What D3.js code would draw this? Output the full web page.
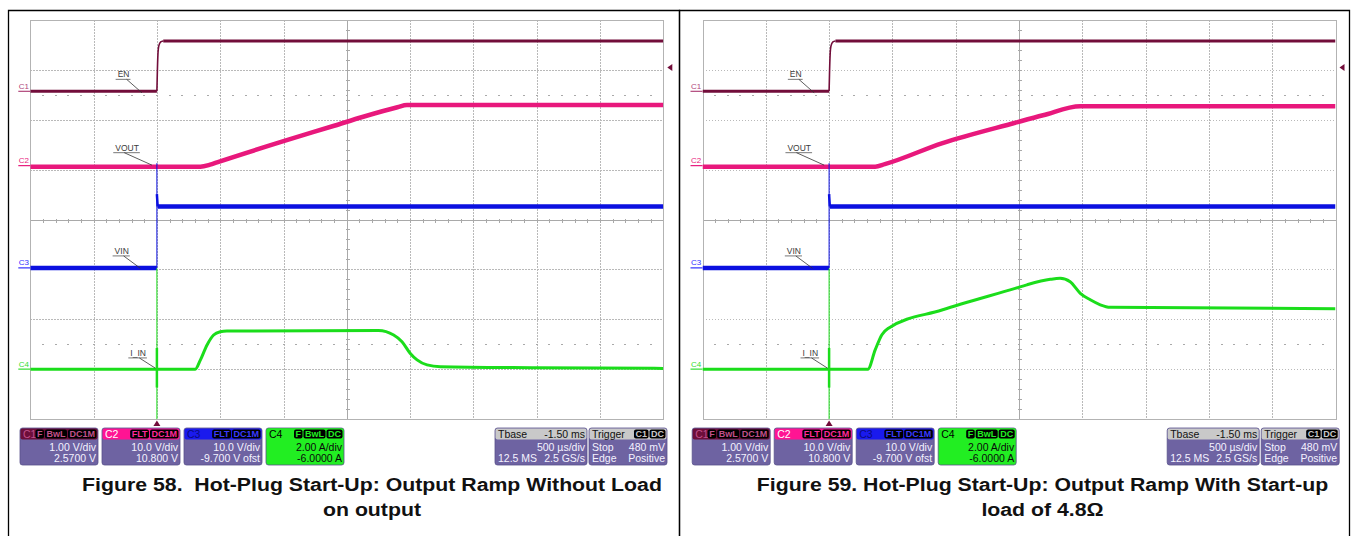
<!DOCTYPE html>
<meta charset="utf-8">
<style>
body {
	margin: 0;
	background-color: #ffffff;
	font-family: "Liberation Sans", Arial, sans-serif;
}
svg { display: block; }
.grid line { stroke: #b9b9b9; stroke-dasharray: 1.5,1.5; shape-rendering: crispEdges; }
.center line { stroke: #a9a9a9; shape-rendering: crispEdges; }
.frame { fill: none; stroke: #b3b3b3; shape-rendering: crispEdges; }
.trace { fill: none; stroke-linejoin: round; stroke-linecap: butt; }
.note { font-size: 8.5px; fill: #3a3a3a; }
.caption { font-size: 19px; font-weight: bold; fill: #111; text-anchor: middle; white-space: pre; }
.box text { font-size: 10.5px; }
</style>
<body>
<script src="https://d3js.org/d3.v7.min.js"></script>
<script>
// time axis in ms (trigger at 0), 500 us/div, 10 divisions
var timeRange = [-1.0, 4.0];
var divRange = [-4, 4];

// channel setup
var chanIds = ['C1', 'C2', 'C3', 'C4'];
var chanNames = ['EN', 'VOUT', 'VIN', 'I_IN'];
var perDiv = [1.0, 10.0, 10.0, 2.0];
var chanOffset = [2.57, 10.8, -9.7, -6.0];
var boxScale = ['1.00 V/div', '10.0 V/div', '10.0 V/div', '2.00 A/div'];
var boxOffset = ['2.5700 V', '10.800 V', '-9.700 V ofst', '-6.0000 A'];
var boxBadges = [['F', 'BwL', 'DC1M'], ['FLT', 'DC1M'], ['FLT', 'DC1M'], ['F', 'BwL', 'DC']];
var tbaseLines = [['Tbase', '-1.50 ms'], ['', '500 \u00b5s/div'], ['12.5 MS', '2.5 GS/s']];
var trigLines = [['Trigger', ''], ['Stop', '480 mV'], ['Edge', 'Positive']];
var trigBadges = ['C1', 'DC'];
var trigLevel = 0.48; // V on C1

// EN (V) and VIN (V) are the same in both captures: [ms, value]
var en = [[-1, 0], [0, 0], null, [0.05, 1.01], [4, 1.01]];
var enEdge = [[0, 0], [0.003, 0.33], [0.008, 0.73], [0.015, 0.91], [0.03, 0.99], [0.05, 1.01]];
var vin = [[-1, 0], [0, 0], null, [0.006, 12.3], [4, 12.3]];
var vinEdge = [[0, 21.0], [0, 0]];
var vinSpike = [[0, 14.8], [0.006, 12.3]];

// Figure 58: no load
var vout58 = [[-1, -0.2], [0.343, -0.2], [0.42, 0.2], [0.475, 0.66], [1.0, 4.9], [1.4, 8.0],
	[1.63, 9.8], [1.9, 11.7], [1.975, 12.15], [4, 12.15]];
var iin58 = [[-1, 0], [0.303, 0], [0.343, 0.36], [0.396, 0.97], [0.448, 1.37], [0.5, 1.5],
	[0.553, 1.53], [1.75, 1.55], [1.87, 1.37], [1.936, 1.1], [2.0, 0.64], [2.055, 0.37],
	[2.134, 0.17], [2.24, 0.1], [3.0, 0.06], [4, 0.03]];

// Figure 59: 4.8 ohm start-up load
var vout59 = [[-1, -0.2], [0.364, -0.2], [0.44, 0.3], [0.89, 4.47], [1.47, 8.6], [1.69, 10.1],
	[1.984, 11.9], [4, 11.9]];
var iin59 = [[-1, 0], [0.306, 0], [0.364, 0.77], [0.417, 1.38], [0.469, 1.64], [0.891, 2.37],
	[1.47, 3.24], [1.562, 3.38], [1.747, 3.6], [1.825, 3.64], [1.904, 3.5], [1.984, 3.04],
	[2.063, 2.78], [2.142, 2.58], [2.22, 2.48], [4, 2.42]];

var iinEdge = [[0, 4.04], [0, -2]];
var iinSpike = [[0, 0.85], [0, -0.74]];

var captions = [
	['Figure 58.  Hot-Plug Start-Up: Output Ramp Without Load', 'on output'],
	['Figure 59. Hot-Plug Start-Up: Output Ramp With Start-up', 'load of 4.8\u03a9']
];

// styles
var traceColor = ['#720d3a', '#e8187c', '#0b10e0', '#1bdd1b'];
var traceWidth = [3, 4.5, 4.5, 3];
var markColor = ['#b0457a', '#e8187c', '#3030ff', '#33dd33'];
var headFill = ['#6d0e3a', '#ff1493', '#1a1aee', '#22ee22'];
var headText = ['#c0508a', '#ffffff', '#0a0a80', '#000000'];
var badgeText = ['#c0508a', '#ff2a9a', '#3a3aff', '#22ee22'];
var bodyFill = '#6e63a2';

var width = 1351, height = 536;
var gridTop = 20, gridW = 633, gridH = 399;
var boxTop = 428, boxH = 37, headH = 11;

var svg = d3.select('body').append('svg')
	.attr('width', width)
	.attr('height', height);

var panels = [
	{frame: [8.5, 679.5], gridLeft: 30.3, vout: vout58, iin: iin58, caption: captions[0]},
	{frame: [679.5, 1349.5], gridLeft: 702.5, vout: vout59, iin: iin59, caption: captions[1]}
];

// text labels placed in scope coordinates (ms, divisions)
var notes = [
	{ch: 0, tx: -0.31, ty: 2.85, ex: -0.118, ey: 2.54},
	{ch: 1, tx: -0.329, ty: 1.38, ex: -0.039, ey: 1.09},
	{ch: 2, tx: -0.334, ty: -0.69, ex: -0.131, ey: -0.978},
	{ch: 3, tx: -0.21, ty: -2.735, ex: -0.013, ey: -2.98}
];

svg.append('defs');

panels.forEach(function(p, pi) {
	var g = svg.append('g');
	var x = d3.scaleLinear().domain(timeRange).range([p.gridLeft, p.gridLeft + gridW]);
	var y = d3.scaleLinear().domain(divRange).range([gridTop + gridH, gridTop]);

	// panel border (open at the bottom)
	g.append('path')
		.attr('d', 'M' + p.frame[0] + ',' + (height + 2) + 'V10.5H' + p.frame[1] + 'V' + (height + 2))
		.attr('fill', 'none').attr('stroke', '#000').attr('stroke-width', 1.3);

	// graticule
	var vLines = d3.range(timeRange[0] + 0.5, timeRange[1] - 0.01, 0.5).filter(function(t) { return Math.abs(t - 1.5) > 1e-6; });
	var hLines = d3.range(-3, 3.5, 1).filter(function(d) { return d !== 0; });
	var grid = g.append('g').attr('class', 'grid');
	grid.selectAll('.v').data(vLines).enter().append('line')
		.attr('x1', function(d) { return Math.round(x(d)) + 0.5; })
		.attr('x2', function(d) { return Math.round(x(d)) + 0.5; })
		.attr('y1', y(4)).attr('y2', y(-4));
	grid.selectAll('.h').data(hLines).enter().append('line')
		.attr('y1', function(d) { return Math.round(y(d)) + 0.5; })
		.attr('y2', function(d) { return Math.round(y(d)) + 0.5; })
		.attr('x1', x(timeRange[0])).attr('x2', x(timeRange[1]));

	var cx = Math.round(x(1.5)) + 0.5, cy = Math.round(y(0)) + 0.5;
	var center = g.append('g').attr('class', 'center');
	center.append('line').attr('x1', cx).attr('x2', cx).attr('y1', y(4)).attr('y2', y(-4));
	center.append('line').attr('y1', cy).attr('y2', cy).attr('x1', x(timeRange[0])).attr('x2', x(timeRange[1]));
	center.selectAll('.tx').data(d3.range(timeRange[0] + 0.1, timeRange[1] - 0.05, 0.1)).enter().append('line')
		.attr('x1', function(d) { return Math.round(x(d)) + 0.5; })
		.attr('x2', function(d) { return Math.round(x(d)) + 0.5; })
		.attr('y1', cy - 2).attr('y2', cy + 2);
	center.selectAll('.ty').data(d3.range(-3.8, 3.9, 0.2)).enter().append('line')
		.attr('y1', function(d) { return Math.round(y(d)) + 0.5; })
		.attr('y2', function(d) { return Math.round(y(d)) + 0.5; })
		.attr('x1', cx - 2).attr('x2', cx + 2);
	// dotted tick rows at +/- 2.5 div
	[2.5, -2.5].forEach(function(r) {
		center.selectAll('.r' + (r > 0 ? 'p' : 'n')).data(d3.range(timeRange[0] + 0.1, timeRange[1] - 0.05, 0.1)).enter().append('line')
			.attr('x1', function(d) { return x(d) - 1; })
			.attr('x2', function(d) { return x(d) + 1; })
			.attr('y1', Math.round(y(r)) + 0.5).attr('y2', Math.round(y(r)) + 0.5)
			.attr('stroke', '#9a9a9a');
	});

	g.append('rect').attr('class', 'frame')
		.attr('x', Math.round(x(timeRange[0])) + 0.5).attr('y', gridTop + 0.5)
		.attr('width', gridW).attr('height', gridH);

	// traces
	var cid = 'clip' + pi;
	svg.select('defs').append('clipPath').attr('id', cid).append('rect')
		.attr('x', x(timeRange[0])).attr('y', gridTop).attr('width', gridW).attr('height', gridH + 1);
	var tg = g.append('g').attr('clip-path', 'url(#' + cid + ')');

	function toDiv(ch) {
		return function(d) { return y((d[1] + chanOffset[ch]) / perDiv[ch]); };
	}
	function draw(ch, data, w, curve) {
		var line = d3.line()
			.defined(function(d) { return d !== null; })
			.x(function(d) { return x(d[0]); })
			.y(toDiv(ch))
			.curve(curve || d3.curveLinear);
		tg.append('path').attr('class', 'trace').attr('d', line(data))
			.attr('stroke', traceColor[ch]).attr('stroke-width', w);
	}
	draw(0, en, traceWidth[0]);
	draw(0, enEdge, 1.6, d3.curveMonotoneX);
	draw(1, p.vout, traceWidth[1], d3.curveMonotoneX);
	draw(2, vinEdge, 1);
	draw(2, vin, traceWidth[2]);
	draw(2, vinSpike, 2.5);
	draw(3, p.iin, traceWidth[3], d3.curveMonotoneX);
	draw(3, iinEdge, 1);
	draw(3, iinSpike, 2.5);

	// channel ground markers on the left
	chanIds.forEach(function(c, ch) {
		var gy = y(chanOffset[ch] / perDiv[ch]);
		var x0 = x(timeRange[0]);
		g.append('line').attr('x1', x0 - 12).attr('x2', x0).attr('y1', gy).attr('y2', gy)
			.attr('stroke', markColor[ch]).attr('stroke-width', 1.2);
		g.append('text').attr('x', x0 - 11.5).attr('y', gy - 2.5).text(c)
			.attr('font-size', '8px').attr('fill', markColor[ch]);
	});

	// annotations
	notes.forEach(function(n) {
		var tx = x(n.tx), ty = y(n.ty);
		var t = g.append('text').attr('class', 'note').attr('x', tx).attr('y', ty).text(chanNames[n.ch]);
		var tw = t.node().getComputedTextLength();
		g.append('line').attr('x1', tx - 2).attr('x2', tx + tw + 1).attr('y1', ty + 2).attr('y2', ty + 2)
			.attr('stroke', '#555').attr('stroke-width', 0.8);
		g.append('line').attr('x1', tx + 9).attr('x2', x(n.ex)).attr('y1', ty + 2).attr('y2', y(n.ey))
			.attr('stroke', '#333').attr('stroke-width', 0.8);
	});

	// trigger markers
	var ly = y((trigLevel + chanOffset[0]) / perDiv[0]);
	var rx = x(timeRange[1]) + 4;
	g.append('path').attr('d', 'M' + rx + ',' + ly + 'l5,-3.5v7z').attr('fill', traceColor[0]);
	var bx = x(0);
	g.append('path').attr('d', 'M' + bx + ',' + (gridTop + gridH + 1.5) + 'l-3.5,5.5h7z').attr('fill', traceColor[0]);

	// info boxes
	var left0 = x(timeRange[0]);
	chanIds.forEach(function(c, ch) {
		var isGreen = ch === 3;
		infoBox(g, left0 - 10.3 + ch * 82, 78, headFill[ch], isGreen ? headFill[ch] : bodyFill,
			[c, ''], headText[ch], boxBadges[ch], badgeText[ch],
			[['', boxScale[ch]], ['', boxOffset[ch]]], isGreen ? '#0a0a0a' : '#f4f2ff');
	});
	infoBox(g, left0 + 464.7, 92, '#c9c9c9', bodyFill, tbaseLines[0], '#111', [], '#000',
		tbaseLines.slice(1), '#f4f2ff');
	infoBox(g, left0 + 558.7, 78, '#c9c9c9', bodyFill, trigLines[0], '#111', trigBadges, '#c9c9c9',
		trigLines.slice(1), '#f4f2ff');

	// caption (the printed figure is slightly wider than the font)
	var capX = (p.frame[0] + p.frame[1]) / 2 + 28;
	[491, 516].forEach(function(by, i) {
		g.append('text').attr('class', 'caption')
			.attr('transform', 'translate(' + capX + ',' + by + ') scale(1.12,1)')
			.text(p.caption[i]);
	});
});

function infoBox(g, x0, w, hFill, bFill, head, hColor, badges, bColor, lines, tColor) {
	var b = g.append('g').attr('class', 'box');
	b.append('rect').attr('x', x0).attr('y', boxTop).attr('width', w).attr('height', boxH)
		.attr('rx', 2.5).attr('fill', bFill).attr('stroke', '#58508a').attr('stroke-width', 0.8);
	b.append('rect').attr('x', x0 + 0.5).attr('y', boxTop + 0.5).attr('width', w - 1).attr('height', headH)
		.attr('rx', 2).attr('fill', hFill);
	b.append('text').attr('x', x0 + 3).attr('y', boxTop + 9.5).text(head[0]).attr('fill', hColor);
	if (head[1]) {
		b.append('text').attr('x', x0 + w - 2).attr('y', boxTop + 9.5).attr('text-anchor', 'end')
			.text(head[1]).attr('fill', hColor);
	}
	var bx = x0 + w - 1.5;
	badges.slice().reverse().forEach(function(s) {
		var bg = b.append('g');
		var r = bg.append('rect');
		var t = bg.append('text').text(s).attr('y', boxTop + 9.3)
			.style('font-size', '9px').style('font-weight', 'bold').attr('fill', bColor);
		var tw = t.node().getComputedTextLength();
		bx -= tw + 3;
		t.attr('x', bx + 1.5);
		r.attr('x', bx).attr('y', boxTop + 1.5).attr('width', tw + 3).attr('height', headH - 2)
			.attr('rx', 2).attr('fill', '#000');
		bx -= 1;
	});
	lines.forEach(function(l, i) {
		var ly = boxTop + 23 + i * 10.7;
		if (l[0]) b.append('text').attr('x', x0 + 3).attr('y', ly).text(l[0]).attr('fill', tColor);
		if (l[1]) b.append('text').attr('x', x0 + w - 2).attr('y', ly).attr('text-anchor', 'end')
			.text(l[1]).attr('fill', tColor);
	});
}
</script>
</body>
